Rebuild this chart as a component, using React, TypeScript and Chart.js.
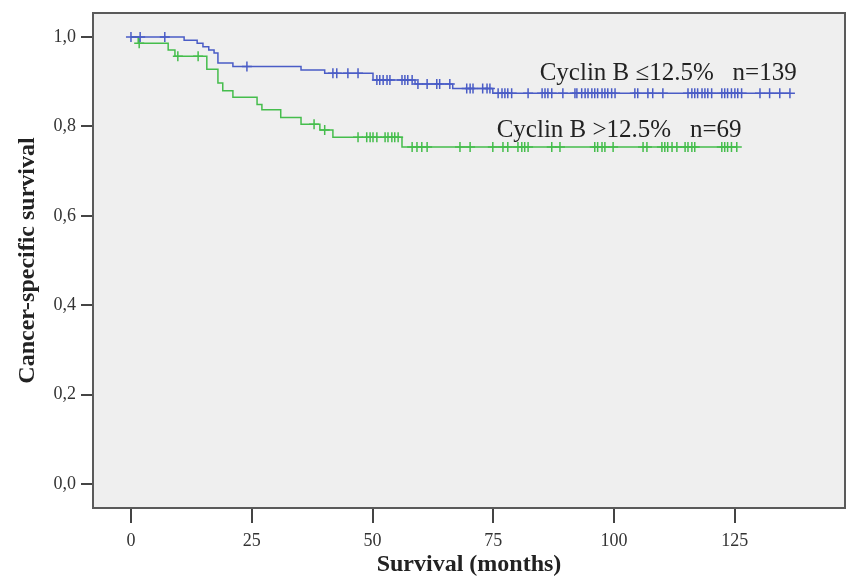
import React, { useEffect, useRef } from 'react';
import { Chart, registerables } from 'chart.js';

Chart.register(...registerables);

const X_TICKS = [0, 25, 50, 75, 100, 125];
const X_TICK_LABELS = ['0', '25', '50', '75', '100', '125'];
const Y_TICKS = [0, 0.2, 0.4, 0.6, 0.8, 1.0];
const Y_TICK_LABELS = ['0,0', '0,2', '0,4', '0,6', '0,8', '1,0'];

// Cyclin B <=12.5% (n=139): step times (months) and survival after each step
const LOW_TIMES = [0, 11.0, 13.7, 14.9, 16.1, 17.2, 18.0, 21.1, 35.2, 40.1, 50.1, 58.8, 66.6, 74.9, 136.4];
const LOW_SURV = [1.0, 0.993, 0.986, 0.978, 0.971, 0.964, 0.942, 0.934, 0.926, 0.919, 0.904, 0.895, 0.885, 0.874, 0.874];
const LOW_CENSORED = [
  0, 1.9, 7.0, 24.0, 41.8, 42.6, 44.9, 47.0, 50.9, 51.5, 52.2, 53.0, 53.6, 56.1, 56.7, 57.3, 58.2,
  59.4, 61.3, 63.3, 63.9, 66.0, 69.5, 70.2, 70.8, 72.8, 73.7, 74.3, 76.0, 76.8, 77.4, 78.0, 78.8,
  82.2, 85.1, 85.7, 86.3, 87.1, 89.4, 91.9, 92.3, 93.3, 94.0, 94.6, 95.4, 96.0, 96.6, 97.5, 98.1,
  98.7, 99.5, 100.2, 104.3, 104.9, 107.0, 108.0, 110.1, 115.3, 116.1, 116.7, 117.3, 118.2, 118.8,
  119.4, 120.2, 122.3, 122.9, 123.5, 124.3, 125.0, 125.6, 126.4, 130.2, 132.2, 134.3, 136.4,
];

// Cyclin B >12.5% (n=69)
const HIGH_TIMES = [0, 1.5, 7.7, 9.1, 15.7, 18.0, 19.0, 21.1, 26.1, 27.1, 31.0, 35.2, 39.1, 41.8, 56.1, 125.4];
const HIGH_SURV = [1.0, 0.986, 0.971, 0.957, 0.928, 0.897, 0.88, 0.865, 0.849, 0.837, 0.82, 0.805, 0.792, 0.776, 0.754, 0.754];
const HIGH_CENSORED = [
  1.7, 9.7, 13.9, 37.9, 40.1, 47.0, 48.8, 49.5, 50.1, 50.9, 52.6, 53.2, 54.0, 54.6, 55.3, 58.2, 59.2,
  60.2, 61.3, 68.1, 70.2, 74.9, 77.0, 78.0, 80.1, 80.9, 81.5, 82.2, 87.1, 88.8, 96.0, 96.6, 97.5,
  98.1, 99.8, 106.0, 106.8, 109.9, 110.5, 111.1, 112.0, 113.0, 114.7, 115.3, 116.1, 116.7, 122.3,
  122.9, 123.5, 124.3, 125.4,
];

const LABELS = [
  { text: 'Cyclin B \u226412.5%   n=139', x: 84.6, y: 0.904 },
  { text: 'Cyclin B >12.5%   n=69', x: 75.7, y: 0.776 },
];

const BLUE = '#4a5cc6';
const GREEN = '#45bd4c';
const FONT = '"Liberation Serif", "Times New Roman", serif';

function survivalAt(times: number[], surv: number[], t: number) {
  let v = surv[0];
  for (let i = 0; i < times.length; i++) {
    if (times[i] <= t) v = surv[i];
  }
  return v;
}

const framePlugin = {
  id: 'frame',
  beforeDatasetsDraw(chart: any) {
    const { ctx, chartArea: a } = chart;
    ctx.save();
    ctx.fillStyle = '#efefef';
    ctx.fillRect(a.left, a.top, a.right - a.left, a.bottom - a.top);
    ctx.restore();
  },
  afterDraw(chart: any) {
    const { ctx, chartArea: a, scales } = chart;
    ctx.save();
    ctx.strokeStyle = '#5a5a5a';
    ctx.lineWidth = 2;
    ctx.strokeRect(a.left, a.top, a.right - a.left, a.bottom - a.top);
    ctx.fillStyle = '#222';
    ctx.font = `25px ${FONT}`;
    ctx.textAlign = 'left';
    ctx.textBaseline = 'alphabetic';
    for (const l of LABELS) {
      ctx.fillText(l.text, scales.x.getPixelForValue(l.x), scales.y.getPixelForValue(l.y));
    }
    ctx.restore();
  },
};

function zeroPad(s: any) {
  s.paddingLeft = 0;
  s.paddingRight = 0;
  s.paddingTop = 0;
  s.paddingBottom = 0;
}

export default function App() {
  const ref = useRef<HTMLCanvasElement | null>(null);
  useEffect(() => {
    if (!ref.current) return;
    const lowLine = LOW_TIMES.map((t, i) => ({ x: t, y: LOW_SURV[i] }));
    const highLine = HIGH_TIMES.map((t, i) => ({ x: t, y: HIGH_SURV[i] }));
    const lowCens = LOW_CENSORED.map((t) => ({ x: t, y: survivalAt(LOW_TIMES, LOW_SURV, t) }));
    const highCens = HIGH_CENSORED.map((t) => ({ x: t, y: survivalAt(HIGH_TIMES, HIGH_SURV, t) }));
    const chart = new Chart(ref.current, {
      type: 'scatter',
      data: {
        datasets: [
          { data: lowCens, showLine: false, pointStyle: 'cross', pointRadius: 5, borderColor: BLUE, backgroundColor: BLUE, borderWidth: 1.5 },
          { data: lowLine, showLine: true, stepped: 'before', pointRadius: 0, borderColor: BLUE, borderWidth: 1.5, fill: false },
          { data: highCens, showLine: false, pointStyle: 'cross', pointRadius: 5, borderColor: GREEN, backgroundColor: GREEN, borderWidth: 1.5 },
          { data: highLine, showLine: true, stepped: 'before', pointRadius: 0, borderColor: GREEN, borderWidth: 1.5, fill: false },
        ] as any,
      },
      options: {
        animation: false,
        responsive: false,
        layout: { autoPadding: false, padding: { left: 0, top: 13, right: 1, bottom: 0 } },
        plugins: { legend: { display: false }, tooltip: { enabled: false } },
        scales: {
          x: {
            type: 'linear',
            min: -7.86,
            max: 147.8,
            afterFit: (s: any) => { s.height = 69; zeroPad(s); },
            afterBuildTicks: (s: any) => { s.ticks = X_TICKS.map((v) => ({ value: v })); },
            border: { display: false },
            grid: { display: true, drawOnChartArea: false, drawTicks: true, tickLength: 15, color: '#444', lineWidth: 2 },
            ticks: {
              padding: 7,
              color: '#333',
              font: { family: FONT, size: 18 },
              maxRotation: 0,
              callback: (v: any) => X_TICK_LABELS[X_TICKS.indexOf(Number(v))] ?? '',
            },
            title: {
              display: true,
              text: 'Survival (months)',
              color: '#222',
              font: { family: FONT, size: 24, weight: 'bold' },
              padding: { top: 0, bottom: -2 },
            },
          },
          y: {
            type: 'linear',
            min: -0.0537,
            max: 1.0537,
            afterFit: (s: any) => { s.width = 93; zeroPad(s); },
            afterBuildTicks: (s: any) => { s.ticks = Y_TICKS.map((v) => ({ value: v })); },
            border: { display: false },
            grid: { display: true, drawOnChartArea: false, drawTicks: true, tickLength: 12, color: '#444', lineWidth: 2 },
            ticks: {
              padding: 5,
              color: '#333',
              font: { family: FONT, size: 18 },
              callback: (v: any) => {
                const i = Y_TICKS.findIndex((t) => Math.abs(t - Number(v)) < 1e-6);
                return i >= 0 ? Y_TICK_LABELS[i] : '';
              },
            },
            title: {
              display: true,
              text: 'Cancer-specific survival',
              color: '#222',
              font: { family: FONT, size: 24, weight: 'bold' },
              padding: { top: 13, bottom: 0 },
            },
          },
        },
      },
      plugins: [framePlugin],
    });
    return () => chart.destroy();
  }, []);
  return (
    <div style={{ position: 'absolute', left: 0, top: 0, width: 846, height: 577, background: '#fff' }}>
      <canvas ref={ref} width={846} height={577} style={{ display: 'block' }} />
    </div>
  );
}
